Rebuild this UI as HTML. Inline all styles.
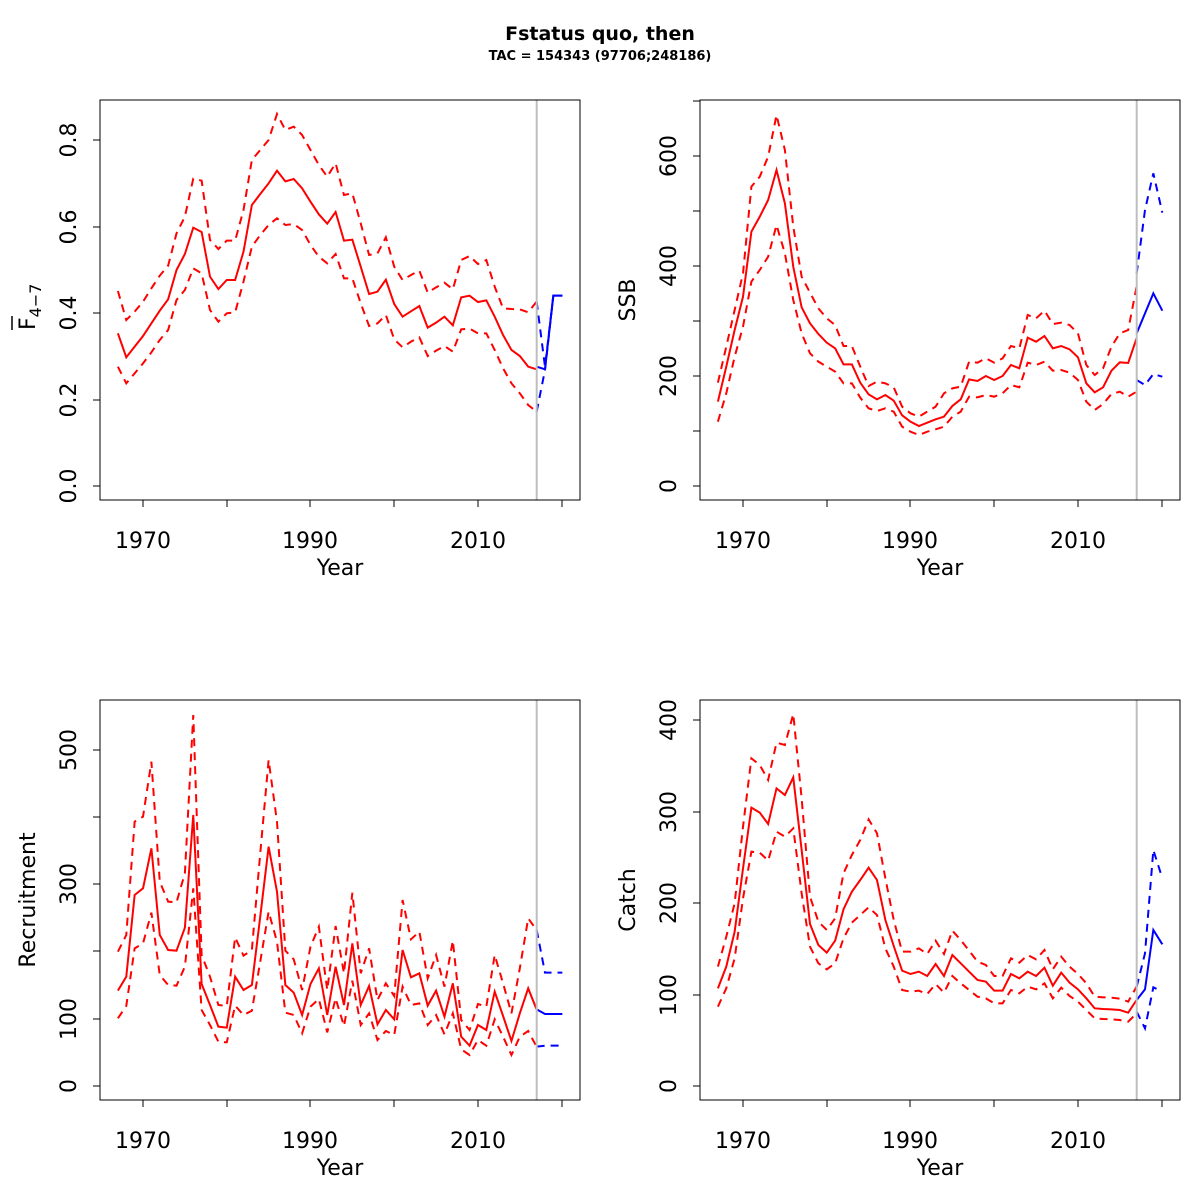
<!DOCTYPE html>
<html><head><meta charset="utf-8"><style>
html,body{margin:0;padding:0;background:#fff;}
svg{display:block;font-family:"DejaVu Sans","Liberation Sans",sans-serif;}
</style></head><body>
<svg id="s" width="1200" height="1200" viewBox="0 0 1200 1200" xmlns="http://www.w3.org/2000/svg">
<rect width="1200" height="1200" fill="#fff"/>
<text x="600" y="40" text-anchor="middle" font-size="19" font-weight="bold">Fstatus quo, then</text>
<text x="600" y="60" text-anchor="middle" font-size="13" font-weight="bold">TAC = 154343 (97706;248186)</text>
</svg>
<script>
var S=document.getElementById('s'),NS='http://www.w3.org/2000/svg';
function el(t,a,txt){var e=document.createElementNS(NS,t);for(var k in a)e.setAttribute(k,a[k]);if(txt!==undefined)e.textContent=txt;S.appendChild(e);return e;}
function X(i){return 53.7+25.12*i;}
function panel(gx,gy,yl,yt,ylabel,data,blue){
  var g=document.createElementNS(NS,'g');g.setAttribute('transform','translate('+gx+','+gy+') scale(0.333333)');S.appendChild(g);
  function pl(pts,col,dash){var p=document.createElementNS(NS,'polyline');p.setAttribute('points',pts);p.setAttribute('fill','none');p.setAttribute('stroke',col);p.setAttribute('stroke-width','6');if(dash)p.setAttribute('stroke-dasharray','24,18');g.appendChild(p);}
  data.forEach(function(d,k){pl(d.map(function(y,i){return X(i)+','+y;}).join(' '),'#ff0000',k>0);});
  blue.forEach(function(d,k){pl(d.map(function(q){return q[0]+','+q[1];}).join(' '),'#0000ff',k>0);});
  el('line',{x1:gx+436.7,y1:gy,x2:gx+436.7,y2:gy+400,stroke:'#bebebe','stroke-width':2});
  el('rect',{x:gx,y:gy,width:480,height:400,fill:'none',stroke:'#000','stroke-width':1});
  el('line',{x1:gx+43,y1:gy+400,x2:gx+462,y2:gy+400,stroke:'#000'});
  [43,127,210,294,378,462].forEach(function(x,i){el('line',{x1:gx+x,y1:gy+400,x2:gx+x,y2:gy+407,stroke:'#000'});});
  [[43,'1970'],[210,'1990'],[378,'2010']].forEach(function(a){el('text',{x:gx+a[0],y:gy+448,'text-anchor':'middle','font-size':22},a[1]);});
  el('text',{x:gx+240,y:gy+475,'text-anchor':'middle','font-size':22},'Year');
  var ys=yt.map(function(t){return t[0];});
  el('line',{x1:gx,y1:gy+Math.min.apply(null,ys),x2:gx,y2:gy+Math.max.apply(null,ys),stroke:'#000'});
  yt.forEach(function(t){el('line',{x1:gx-7,y1:gy+t[0],x2:gx,y2:gy+t[0],stroke:'#000'});
    if(t[1]!==''){el('text',{x:gx-24,y:gy+t[0],'text-anchor':'middle','font-size':22,transform:'rotate(-90 '+(gx-24)+' '+(gy+t[0])+')'},t[1]);}});
  if(ylabel){el('text',{x:gx-65,y:gy+200,'text-anchor':'middle','font-size':22,transform:'rotate(-90 '+(gx-65)+' '+(gy+200)+')'},ylabel);}
}
panel(100,100,0,[[386,'0.0'],[300,'0.2'],[213,'0.4'],[127,'0.6'],[40,'0.8']],null,[
[700,772,740,708,670,632,598,510,462,383,396,530,567,540,540,455,315,282,250,212,244,237,265,305,343,371,336,422,419,500,582,575,539,612,650,634,618,683,668,650,676,592,587,606,601,650,705,750,768,800,808],
[573,660,635,605,565,527,497,400,350,236,242,420,447,422,422,330,180,150,120,42,90,80,105,150,195,230,190,285,280,370,465,460,412,500,540,525,512,578,562,548,568,480,468,492,480,560,625,627,628,637,605],
[800,850,820,790,757,720,690,600,570,505,520,630,665,640,637,545,440,405,375,355,375,372,390,435,470,490,462,535,535,610,678,670,645,718,742,725,712,768,752,738,755,688,686,700,700,750,805,850,880,915,935]],
[[[1310,800],[1335,808],[1360,587],[1387,587]],[[1310,605],[1335,800],[1360,587],[1387,587]],[[1310,935],[1335,810],[1360,587],[1387,587]]]);
(function(){var t=el('text',{x:0,y:0,'font-size':22,transform:'translate(35,330) rotate(-90)'});
var a=document.createElementNS(NS,'tspan');a.textContent='F';t.appendChild(a);
var b=document.createElementNS(NS,'tspan');b.textContent='4\u22127';b.setAttribute('font-size','16');b.setAttribute('dy','6');t.appendChild(b);
el('line',{x1:12,y1:330,x2:12,y2:316,stroke:'#000','stroke-width':1.5});})();
panel(700,100,0,[[386,'0'],[331,''],[276,'200'],[221,''],[166,'400'],[111,''],[56,'600'],[1,'']],'SSB',[
[905,800,690,590,395,350,300,210,310,500,622,670,702,728,745,793,793,848,883,898,885,902,946,965,978,968,958,950,918,898,838,843,828,840,828,795,805,713,725,708,745,738,748,772,850,877,862,812,787,789,715],
[848,740,630,520,260,230,170,45,150,380,530,578,625,655,675,738,738,800,858,845,850,862,920,940,950,935,920,880,865,860,785,788,775,788,775,738,745,645,655,632,672,668,675,700,795,825,805,740,700,690,560],
[965,880,770,680,545,510,470,375,460,600,700,760,785,800,815,850,850,893,925,933,925,935,980,995,1005,995,988,980,950,935,890,892,885,890,880,855,862,788,795,785,812,810,818,840,905,930,912,882,875,890,875]],
[[[1310,700],[1335,640],[1360,580],[1387,632]],[[1310,520],[1335,330],[1360,220],[1387,338]],[[1310,840],[1335,855],[1360,822],[1387,830]]]);
panel(100,700,0,[[386,'0'],[319,'100'],[251,''],[184,'300'],[117,''],[50,'500']],'Recruitment',[
[872,830,585,565,445,705,750,752,683,345,852,915,980,983,830,870,855,650,440,575,855,878,945,852,805,945,800,915,730,915,858,973,930,958,750,832,820,917,872,950,850,1010,1037,975,990,875,948,1023,940,865,928],
[755,705,365,350,185,545,605,607,520,45,765,830,915,918,712,767,750,460,180,365,752,778,870,740,680,870,678,820,578,820,745,900,850,888,600,718,695,835,765,860,722,960,990,912,920,765,850,940,805,655,690],
[955,918,745,730,638,825,855,857,800,565,930,975,1025,1027,917,945,932,785,635,725,938,945,1000,920,897,997,895,978,842,975,940,1020,993,1005,860,915,910,975,945,1003,940,1048,1065,1020,1037,958,1010,1065,1010,993,1040]],
[[[1310,928],[1335,942],[1387,942]],[[1310,690],[1335,818],[1387,818]],[[1310,1040],[1335,1037],[1387,1037]]]);
panel(700,700,0,[[386,'0'],[295,'100'],[203,'200'],[112,'300'],[20,'400']],'Catch',[
[865,800,695,505,323,338,372,265,285,232,450,672,735,758,722,628,575,540,503,540,660,738,812,822,815,828,792,828,765,790,815,840,845,872,872,822,835,815,828,803,857,818,848,868,895,925,927,928,930,938,900],
[800,710,610,380,175,195,240,128,135,42,295,590,665,690,655,520,465,420,358,400,535,660,755,755,745,762,722,762,692,720,752,785,795,828,828,775,788,765,778,750,808,770,800,822,850,890,892,893,896,905,860],
[920,865,775,595,455,458,482,395,410,385,580,740,790,808,790,715,668,645,622,645,745,800,870,875,872,882,852,878,828,850,870,890,895,910,910,870,880,860,868,850,895,863,888,905,930,955,957,958,960,965,940]],
[[[1310,900],[1335,868],[1360,690],[1387,733]],[[1310,860],[1335,760],[1360,450],[1387,535]],[[1310,935],[1335,985],[1360,862],[1373,868]]]);
</script>
</body></html>
